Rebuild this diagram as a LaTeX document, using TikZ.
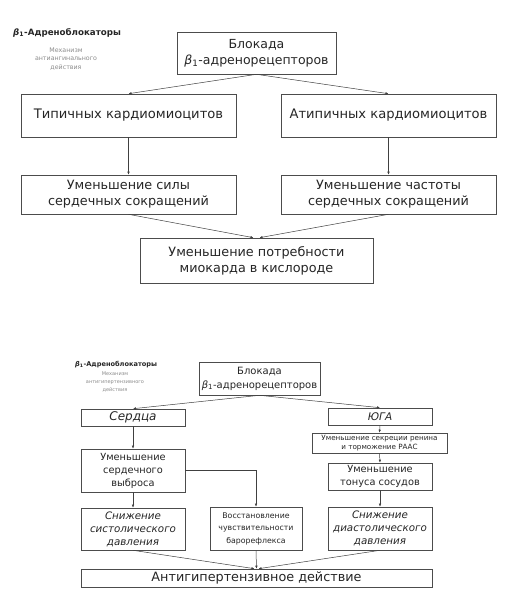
\documentclass[tikz,border=0pt]{standalone}
\usepackage{fontspec}
\setmainfont{DejaVu Sans}
\usetikzlibrary{arrows.meta}
\begin{document}
\begin{tikzpicture}[x=1pt,y=-1pt,
  box/.style={draw=black!70, line width=0.6pt, rectangle, inner sep=0pt, align=center, text=black!85},
  conn/.style={draw=black!75, line width=0.5pt, -{Latex[length=3pt,width=2.5pt]}},
  fA/.style={font=\fontsize{13.1}{16}\selectfont},
  fB/.style={font=\fontsize{12.8}{16}\selectfont},
  fC/.style={font=\fontsize{9.8}{13}\selectfont},
  fI/.style={font=\fontsize{10.3}{13}\selectfont\itshape},
  fD/.style={font=\fontsize{7.2}{9.5}\selectfont},
  ttl/.style={anchor=west, inner sep=0pt, text=black!85},
  sub/.style={inner sep=0pt, align=center, text=black!45}]
\useasboundingbox[fill=white] (0,0) rectangle (512,608);
% ---------- top diagram ----------
\node[ttl, font=\fontsize{8.7}{10}\selectfont\bfseries] (tt) at (13,33) {{\itshape β}\textsubscript{1}-Адреноблокаторы};
\node[sub, font=\fontsize{6.3}{8.2}\selectfont] (ts) at (66,59) {Механизм\\антиангинального\\действия};
\node[box, font=\fontsize{12.5}{16}\selectfont, minimum width=159, minimum height=42] (t0) at (256.5,53) {Блокада\\{\itshape β}\textsubscript{1}-адренорецепторов};
\node[box, fA, minimum width=215, minimum height=43] (t1) at (128.5,115.5) {Типичных кардиомиоцитов};
\node[box, fA, minimum width=215, minimum height=43] (t2) at (388.5,115.5) {Атипичных кардиомиоцитов};
\node[box, fB, minimum width=215, minimum height=39] (t3) at (128.5,194.5) {Уменьшение силы\\сердечных сокращений};
\node[box, fB, minimum width=215, minimum height=39] (t4) at (388.5,194.5) {Уменьшение частоты\\сердечных сокращений};
\node[box, fB, minimum width=233, minimum height=45] (t5) at (256.5,260.5) {Уменьшение потребности\\миокарда в кислороде};
\draw[conn] (t0.south) -- (t1.north);
\draw[conn] (t0.south) -- (t2.north);
\draw[conn] (t1.south) -- (t3.north);
\draw[conn] (t2.south) -- (t4.north);
\draw[conn] (t3.south) -- ([xshift=-3pt]t5.north);
\draw[conn] (t4.south) -- ([xshift=3pt]t5.north);
% ---------- bottom diagram ----------
\node[ttl, font=\fontsize{6.6}{8}\selectfont\bfseries] (bt) at (75,365) {{\itshape β}\textsubscript{1}-Адреноблокаторы};
\node[sub, font=\fontsize{5}{8}\selectfont] (bs) at (115,382) {Механизм\\антигипертензивного\\действия};
\node[box, font=\fontsize{10}{14}\selectfont, minimum width=121, minimum height=33] (b0) at (259.5,378.5) {Блокада\\{\itshape β}\textsubscript{1}-адренорецепторов};
\node[box, font=\fontsize{12}{14}\selectfont\itshape, minimum width=104, minimum height=17] (b1) at (133,417.5) {Сердца};
\node[box, font=\fontsize{10.5}{12}\selectfont\itshape, minimum width=104, minimum height=17] (b2) at (380,416.5) {ЮГА};
\node[box, fD, minimum width=135, minimum height=20] (b3) at (379.5,443) {Уменьшение секреции ренина\\и торможение РААС};
\node[box, fC, minimum width=104, minimum height=27] (b4) at (380,476.5) {Уменьшение\\тонуса сосудов};
\node[box, fI, minimum width=104, minimum height=43] (b5) at (380,528.5) {Снижение\\диастолического\\давления};
\node[box, fC, minimum width=104, minimum height=43] (b6) at (133,470.5) {Уменьшение\\сердечного\\выброса};
\node[box, fI, minimum width=104, minimum height=42] (b7) at (133,529) {Снижение\\систолического\\давления};
\node[box, font=\fontsize{7.8}{12.5}\selectfont, minimum width=92, minimum height=43] (b8) at (256,528.5) {Восстановление\\чувствительности\\барорефлекса};
\node[box, font=\fontsize{12.8}{14}\selectfont, minimum width=351, minimum height=18] (b9) at (256.5,578) {Антигипертензивное действие};
\draw[conn] (b0.south) -- (b1.north);
\draw[conn] (b0.south) -- (b2.north);
\draw[conn] (b1.south) -- (b6.north);
\draw[conn] (b6.south) -- (b7.north);
\draw[conn] (b6.east) -| (b8.north);
\draw[conn] (b2.south) -- (b3.north);
\draw[conn] (b3.south) -- (b4.north);
\draw[conn] (b4.south) -- (b5.north);
\draw[conn] (b7.south) -- ([xshift=-2pt]b9.north);
\draw[conn] (b8.south) -- (b9.north);
\draw[conn] (b5.south) -- ([xshift=2pt]b9.north);
\end{tikzpicture}
\end{document}
